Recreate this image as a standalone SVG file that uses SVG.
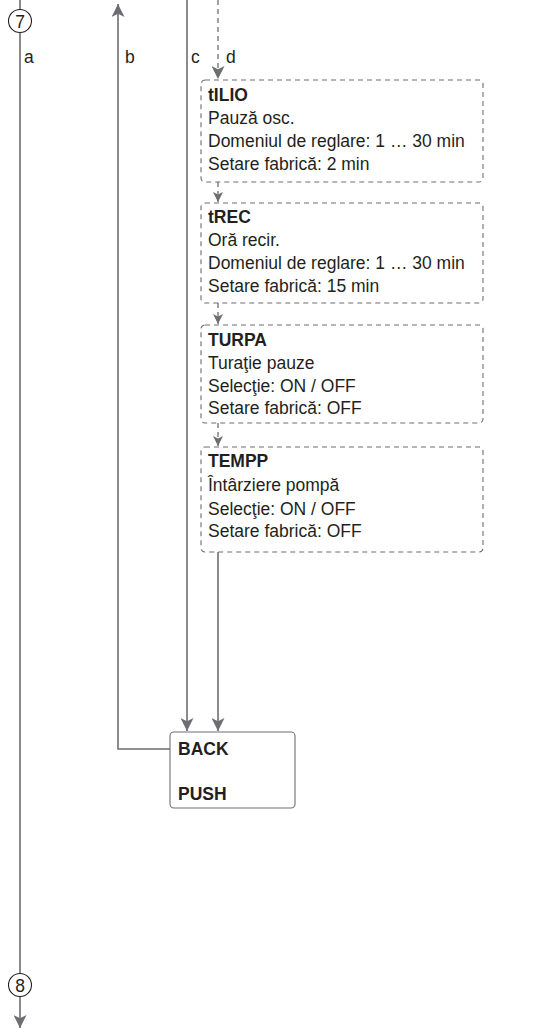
<svg xmlns="http://www.w3.org/2000/svg" width="555" height="1032" viewBox="0 0 555 1032">
<style>
.ln{fill:none;stroke:#6d6e71;stroke-width:1.6}
.ds{fill:none;stroke:#6d6e71;stroke-width:1.3;stroke-dasharray:5,4}
.box{fill:#fff;stroke:#6d6e71;stroke-width:1.1}
.dbox{fill:#fff;stroke:#6d6e71;stroke-width:1.1;stroke-dasharray:5,4}
.t{font-family:"Liberation Sans",Arial,sans-serif;font-size:17.5px;fill:#231f20}
.b{font-weight:bold}
.c{fill:#fff;stroke:#231f20;stroke-width:1.1}
</style>
<defs>
<marker id="ah" viewBox="0 0 10 10" refX="10" refY="5" markerWidth="11" markerHeight="10" markerUnits="userSpaceOnUse" orient="auto">
<path d="M0,0 L10,5 L0,10 L2.5,5 z" fill="#6d6e71"/>
</marker>
<marker id="ahs" viewBox="0 0 10 10" refX="10" refY="5" markerWidth="16" markerHeight="13" markerUnits="userSpaceOnUse" orient="auto">
<path d="M0,0 L10,5 L0,10 L2.5,5 z" fill="#6d6e71"/>
</marker>
</defs>
<g id="connectors">
<line class="ln" x1="20" y1="0" x2="20" y2="974"/>
<line class="ln" x1="20" y1="996" x2="20" y2="1028" marker-end="url(#ahs)"/>
<polyline class="ln" points="170,749 118,749 118,4" marker-end="url(#ahs)"/>
<line class="ln" x1="187" y1="0" x2="187" y2="731" marker-end="url(#ahs)"/>
<line class="ds" x1="218" y1="0" x2="218" y2="79" marker-end="url(#ahs)"/>
<line class="ds" x1="218" y1="182" x2="218" y2="202" marker-end="url(#ah)"/>
<line class="ds" x1="218" y1="303" x2="218" y2="324" marker-end="url(#ah)"/>
<line class="ds" x1="218" y1="423" x2="218" y2="446" marker-end="url(#ah)"/>
<line class="ln" x1="218" y1="552" x2="218" y2="731" marker-end="url(#ahs)"/>
</g>
<g id="conn7">
<circle class="c" cx="20" cy="21" r="11.5"/>
<text class="t" x="20" y="27.5" text-anchor="middle">7</text>
</g>
<g id="conn8">
<circle class="c" cx="20" cy="985" r="11.5"/>
<text class="t" x="20" y="991.5" text-anchor="middle">8</text>
</g>
<g id="labels">
<text class="t" x="24" y="63">a</text>
<text class="t" x="125" y="63">b</text>
<text class="t" x="191" y="63">c</text>
<text class="t" x="226" y="63">d</text>
</g>
<g id="tILIO">
<rect class="dbox" x="201" y="80" width="282" height="102" rx="4"/>
<text class="t b" x="208" y="101">tILIO</text>
<text class="t" x="208" y="124">Pauză osc.</text>
<text class="t" x="208" y="147">Domeniul de reglare: 1 … 30 min</text>
<text class="t" x="208" y="170">Setare fabrică: 2 min</text>
</g>
<g id="tREC">
<rect class="dbox" x="201" y="203" width="282" height="100" rx="4"/>
<text class="t b" x="208" y="223">tREC</text>
<text class="t" x="208" y="246">Oră recir.</text>
<text class="t" x="208" y="269">Domeniul de reglare: 1 … 30 min</text>
<text class="t" x="208" y="292">Setare fabrică: 15 min</text>
</g>
<g id="TURPA">
<rect class="dbox" x="201" y="325" width="282" height="98" rx="4"/>
<text class="t b" x="208" y="346">TURPA</text>
<text class="t" x="208" y="369">Turaţie pauze</text>
<text class="t" x="208" y="392">Selecţie: ON / OFF</text>
<text class="t" x="208" y="414">Setare fabrică: OFF</text>
</g>
<g id="TEMPP">
<rect class="dbox" x="201" y="447" width="282" height="105" rx="4"/>
<text class="t b" x="208" y="467">TEMPP</text>
<text class="t" x="208" y="491">Întârziere pompă</text>
<text class="t" x="208" y="515">Selecţie: ON / OFF</text>
<text class="t" x="208" y="537">Setare fabrică: OFF</text>
</g>
<g id="BACK">
<rect class="box" x="170" y="732" width="125" height="76" rx="4"/>
<text class="t b" x="178" y="755">BACK</text>
<text class="t b" x="178" y="800">PUSH</text>
</g>
</svg>
